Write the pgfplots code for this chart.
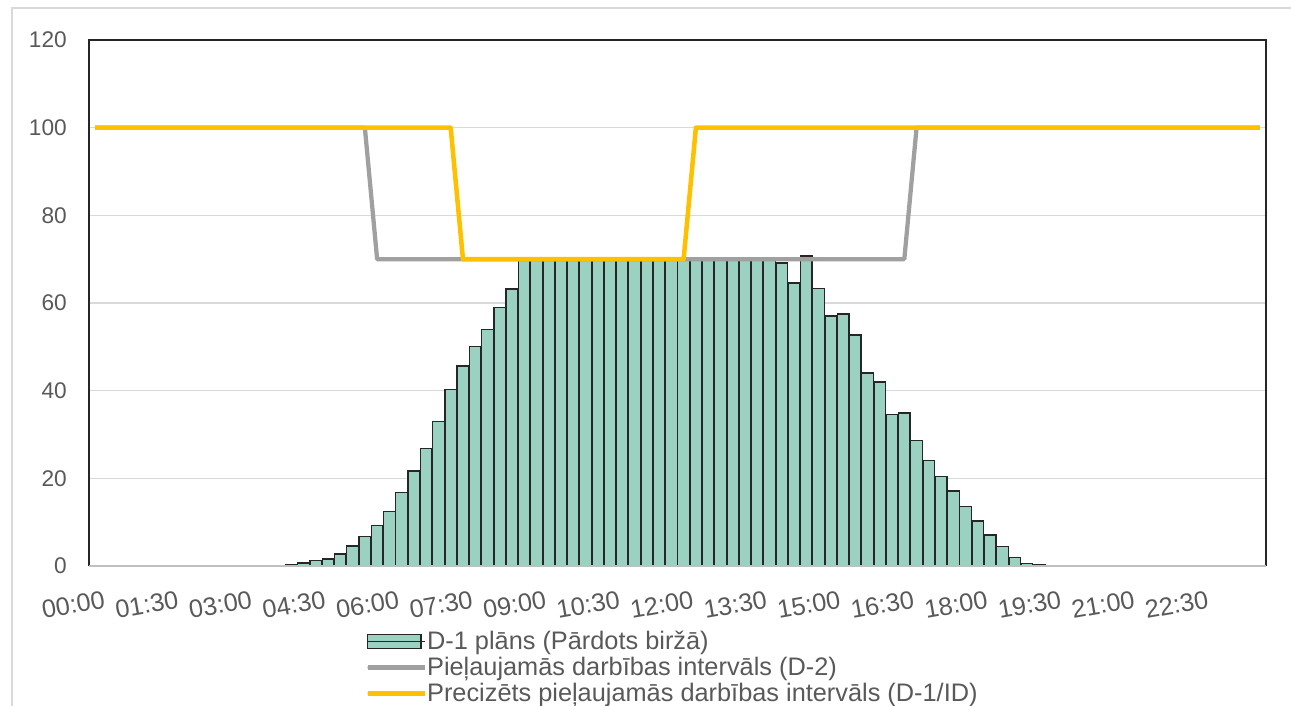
\documentclass[border=0pt]{standalone}
\usepackage{fontspec}
\setmainfont{Liberation Sans}
\usepackage{pgfplots}
\pgfplotsset{compat=1.18}

\definecolor{barfill}{RGB}{155,209,192}
\definecolor{barline}{RGB}{38,38,38}
\definecolor{dtwo}{RGB}{160,160,160}
\definecolor{done}{RGB}{255,192,0}
\definecolor{txtgray}{RGB}{89,89,89}
\definecolor{gridgray}{RGB}{217,217,217}
\definecolor{basegray}{RGB}{191,191,191}

\newcommand\ytickfont{\fontsize{17}{20}\selectfont}
\newcommand\xtickfont{\fontsize{19}{22}\selectfont}
\newcommand\legfont{\fontsize{19}{22}\selectfont}

\begin{document}
\begin{tikzpicture}
\begin{axis}[
    at={(0pt,0pt)}, anchor=south west,
    scale only axis, width=882.75pt, height=394.5pt,
    xmin=-0.5, xmax=95.5, ymin=0, ymax=120,
    ytick={0,20,...,120},
    xtick={0,6,...,90},
    xticklabels={00:00,01:30,03:00,04:30,06:00,07:30,09:00,10:30,12:00,13:30,15:00,16:30,18:00,19:30,21:00,22:30},
    major tick length=0pt,
    tick style={draw=none},
    ymajorgrids,
    grid style={draw=gridgray, line width=1pt},
    axis line style={draw=none},
    ticklabel style={text=txtgray},
    /pgf/number format/assume math mode=true,
    yticklabel style={font=\ytickfont, inner sep=0pt, xshift=-16.5pt},
    xticklabel style={font=\xtickfont, inner sep=0pt, xshift=6pt, yshift=-18pt, rotate=10, anchor=north east},
    clip=false,
    legend cell align=left,
    legend style={at={(0.2345,-0.1274)}, anchor=north west, draw=none, fill=none,
        inner sep=0pt, row sep=7pt, font=\legfont, text=txtgray,
        nodes={inner sep=0pt, text height=12.5pt, text depth=0pt},
        cells={anchor=west}},
]

% D-1 plan, 15-minute slots 0..95 (zero slots left out)
\addplot[ybar, bar width=0.95, fill=barfill, draw=barline, line width=1pt,
    legend image code/.code={
        \draw[fill=barfill, draw=barline, line width=1pt] (0pt,-5.25pt) rectangle (40pt,5.25pt);
        \path (0pt,0pt) -- (43pt,0pt);}]
coordinates {
(16,0.2)(17,0.7)(18,1.2)(19,1.6)(20,2.7)(21,4.6)(22,6.8)(23,9.2)
(24,12.5)(25,16.7)(26,21.7)(27,26.8)(28,32.9)(29,40.2)(30,45.6)(31,50.0)
(32,54.0)(33,58.9)(34,63.2)(35,70)(36,70)(37,70)(38,70)(39,70)
(40,70)(41,70)(42,70)(43,70)(44,70)(45,70)(46,70)(47,70)
(48,70)(49,70)(50,70)(51,70)(52,70)(53,70)(54,70)(55,70)
(56,69.1)(57,64.6)(58,70.7)(59,63.3)(60,57.0)(61,57.5)(62,52.7)(63,44.0)
(64,42.0)(65,34.5)(66,34.9)(67,28.7)(68,24.0)(69,20.4)(70,17.1)(71,13.5)
(72,10.3)(73,7.1)(74,4.4)(75,1.9)(76,0.6)(77,0.2)
};
\addlegendentry{D-1 plāns (Pārdots biržā)}

% D-2 interval
\addplot[dtwo, line width=3.2pt, line join=round, mark=none,
    legend image code/.code={
        \draw[dtwo, line width=3.75pt, line cap=round] (1.8pt,0pt) -- (38.2pt,0pt);
        \path (0pt,0pt) -- (43pt,0pt);}]
coordinates {
(0,100)(1,100)(2,100)(3,100)(4,100)(5,100)(6,100)(7,100)
(8,100)(9,100)(10,100)(11,100)(12,100)(13,100)(14,100)(15,100)
(16,100)(17,100)(18,100)(19,100)(20,100)(21,100)(22,100)(23,70)
(24,70)(25,70)(26,70)(27,70)(28,70)(29,70)(30,70)(31,70)
(32,70)(33,70)(34,70)(35,70)(36,70)(37,70)(38,70)(39,70)
(40,70)(41,70)(42,70)(43,70)(44,70)(45,70)(46,70)(47,70)
(48,70)(49,70)(50,70)(51,70)(52,70)(53,70)(54,70)(55,70)
(56,70)(57,70)(58,70)(59,70)(60,70)(61,70)(62,70)(63,70)
(64,70)(65,70)(66,70)(67,100)(68,100)(69,100)(70,100)(71,100)
(72,100)(73,100)(74,100)(75,100)(76,100)(77,100)(78,100)(79,100)
(80,100)(81,100)(82,100)(83,100)(84,100)(85,100)(86,100)(87,100)
(88,100)(89,100)(90,100)(91,100)(92,100)(93,100)(94,100)(95,100)
};
\addlegendentry{Pieļaujamās darbības intervāls (D-2)}

% D-1/ID interval
\addplot[done, line width=3.4pt, line join=round, mark=none,
    legend image code/.code={
        \draw[done, line width=3.75pt, line cap=round] (1.8pt,0pt) -- (38.2pt,0pt);
        \path (0pt,0pt) -- (43pt,0pt);}]
coordinates {
(0,100)(1,100)(2,100)(3,100)(4,100)(5,100)(6,100)(7,100)
(8,100)(9,100)(10,100)(11,100)(12,100)(13,100)(14,100)(15,100)
(16,100)(17,100)(18,100)(19,100)(20,100)(21,100)(22,100)(23,100)
(24,100)(25,100)(26,100)(27,100)(28,100)(29,100)(30,70)(31,70)
(32,70)(33,70)(34,70)(35,70)(36,70)(37,70)(38,70)(39,70)
(40,70)(41,70)(42,70)(43,70)(44,70)(45,70)(46,70)(47,70)
(48,70)(49,100)(50,100)(51,100)(52,100)(53,100)(54,100)(55,100)
(56,100)(57,100)(58,100)(59,100)(60,100)(61,100)(62,100)(63,100)
(64,100)(65,100)(66,100)(67,100)(68,100)(69,100)(70,100)(71,100)
(72,100)(73,100)(74,100)(75,100)(76,100)(77,100)(78,100)(79,100)
(80,100)(81,100)(82,100)(83,100)(84,100)(85,100)(86,100)(87,100)
(88,100)(89,100)(90,100)(91,100)(92,100)(93,100)(94,100)(95,100)
};
\addlegendentry{Precizēts pieļaujamās darbības intervāls (D-1/ID)}

% plot area frame
\draw[barline, line width=1.5pt, line join=miter]
    (rel axis cs:0,0) -- (rel axis cs:0,1) -- (rel axis cs:1,1) -- (rel axis cs:1,0);
\draw[basegray, line width=1.5pt] (rel axis cs:0,0) -- (rel axis cs:1,0);
\end{axis}

% chart area border and page size
\draw[gridgray, line width=1pt] (-57.75pt,-140pt) rectangle (920pt,418.5pt);
\pgfresetboundingbox
\useasboundingbox (-66.75pt,-105pt) rectangle (901.5pt,424.5pt);
\end{tikzpicture}
\end{document}
